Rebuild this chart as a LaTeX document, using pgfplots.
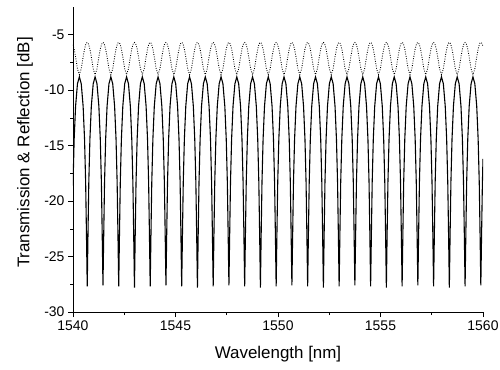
\documentclass[border=0pt]{standalone}
\usepackage{fontspec}
\setmainfont{Liberation Sans}
\usepackage{pgfplots}
\usepackage{pgfplotstable}
\pgfplotsset{compat=1.18}
\pgfplotstableread{
x T R
1540.000 -18.60 -5.90
1540.057 -14.40 -6.29
1540.126 -11.45 -7.00
1540.218 -9.42 -8.07
1540.310 -8.80 -8.60
1540.402 -9.42 -8.07
1540.494 -11.45 -7.00
1540.563 -14.40 -6.29
1540.617 -18.30 -5.91
1540.656 -22.90 -5.75
1540.694 -27.70 -5.70
1540.732 -22.90 -5.75
1540.771 -18.30 -5.91
1540.825 -14.40 -6.29
1540.894 -11.45 -7.00
1540.986 -9.42 -8.07
1541.078 -8.80 -8.60
1541.170 -9.42 -8.07
1541.262 -11.45 -7.00
1541.331 -14.40 -6.29
1541.385 -18.30 -5.91
1541.424 -22.90 -5.75
1541.462 -27.60 -5.70
1541.500 -22.90 -5.75
1541.539 -18.30 -5.91
1541.593 -14.40 -6.29
1541.662 -11.45 -7.00
1541.754 -9.42 -8.07
1541.846 -8.80 -8.60
1541.938 -9.42 -8.07
1542.030 -11.45 -7.00
1542.099 -14.40 -6.29
1542.153 -18.30 -5.91
1542.192 -22.90 -5.75
1542.230 -27.70 -5.70
1542.268 -22.90 -5.75
1542.307 -18.30 -5.91
1542.361 -14.40 -6.29
1542.430 -11.45 -7.00
1542.522 -9.42 -8.07
1542.614 -8.80 -8.60
1542.706 -9.42 -8.07
1542.798 -11.45 -7.00
1542.867 -14.40 -6.29
1542.921 -18.30 -5.91
1542.960 -22.90 -5.75
1542.998 -27.80 -5.70
1543.036 -22.90 -5.75
1543.075 -18.30 -5.91
1543.129 -14.40 -6.29
1543.198 -11.45 -7.00
1543.290 -9.42 -8.07
1543.382 -8.80 -8.60
1543.474 -9.42 -8.07
1543.566 -11.45 -7.00
1543.635 -14.40 -6.29
1543.689 -18.30 -5.91
1543.728 -22.90 -5.75
1543.766 -27.70 -5.70
1543.804 -22.90 -5.75
1543.843 -18.30 -5.91
1543.897 -14.40 -6.29
1543.966 -11.45 -7.00
1544.058 -9.42 -8.07
1544.150 -8.80 -8.60
1544.242 -9.42 -8.07
1544.334 -11.45 -7.00
1544.403 -14.40 -6.29
1544.457 -18.30 -5.91
1544.496 -22.90 -5.75
1544.534 -27.60 -5.70
1544.572 -22.90 -5.75
1544.611 -18.30 -5.91
1544.665 -14.40 -6.29
1544.734 -11.45 -7.00
1544.826 -9.42 -8.07
1544.918 -8.80 -8.60
1545.010 -9.42 -8.07
1545.102 -11.45 -7.00
1545.171 -14.40 -6.29
1545.225 -18.30 -5.91
1545.264 -22.90 -5.75
1545.302 -27.70 -5.70
1545.340 -22.90 -5.75
1545.379 -18.30 -5.91
1545.433 -14.40 -6.29
1545.502 -11.45 -7.00
1545.594 -9.42 -8.07
1545.686 -8.80 -8.60
1545.778 -9.42 -8.07
1545.870 -11.45 -7.00
1545.939 -14.40 -6.29
1545.993 -18.30 -5.91
1546.032 -22.90 -5.75
1546.070 -27.80 -5.70
1546.108 -22.90 -5.75
1546.147 -18.30 -5.91
1546.201 -14.40 -6.29
1546.270 -11.45 -7.00
1546.362 -9.42 -8.07
1546.454 -8.80 -8.60
1546.546 -9.42 -8.07
1546.638 -11.45 -7.00
1546.707 -14.40 -6.29
1546.761 -18.30 -5.91
1546.800 -22.90 -5.75
1546.838 -27.70 -5.70
1546.876 -22.90 -5.75
1546.915 -18.30 -5.91
1546.969 -14.40 -6.29
1547.038 -11.45 -7.00
1547.130 -9.42 -8.07
1547.222 -8.80 -8.60
1547.314 -9.42 -8.07
1547.406 -11.45 -7.00
1547.475 -14.40 -6.29
1547.529 -18.30 -5.91
1547.568 -22.90 -5.75
1547.606 -27.60 -5.70
1547.644 -22.90 -5.75
1547.683 -18.30 -5.91
1547.737 -14.40 -6.29
1547.806 -11.45 -7.00
1547.898 -9.42 -8.07
1547.990 -8.80 -8.60
1548.082 -9.42 -8.07
1548.174 -11.45 -7.00
1548.243 -14.40 -6.29
1548.297 -18.30 -5.91
1548.336 -22.90 -5.75
1548.374 -27.70 -5.70
1548.412 -22.90 -5.75
1548.451 -18.30 -5.91
1548.505 -14.40 -6.29
1548.574 -11.45 -7.00
1548.666 -9.42 -8.07
1548.758 -8.80 -8.60
1548.850 -9.42 -8.07
1548.942 -11.45 -7.00
1549.011 -14.40 -6.29
1549.065 -18.30 -5.91
1549.104 -22.90 -5.75
1549.142 -27.80 -5.70
1549.180 -22.90 -5.75
1549.219 -18.30 -5.91
1549.273 -14.40 -6.29
1549.342 -11.45 -7.00
1549.434 -9.42 -8.07
1549.526 -8.80 -8.60
1549.618 -9.42 -8.07
1549.710 -11.45 -7.00
1549.779 -14.40 -6.29
1549.833 -18.30 -5.91
1549.872 -22.90 -5.75
1549.910 -27.70 -5.70
1549.948 -22.90 -5.75
1549.987 -18.30 -5.91
1550.041 -14.40 -6.29
1550.110 -11.45 -7.00
1550.202 -9.42 -8.07
1550.294 -8.80 -8.60
1550.386 -9.42 -8.07
1550.478 -11.45 -7.00
1550.547 -14.40 -6.29
1550.601 -18.30 -5.91
1550.640 -22.90 -5.75
1550.678 -27.60 -5.70
1550.716 -22.90 -5.75
1550.755 -18.30 -5.91
1550.809 -14.40 -6.29
1550.878 -11.45 -7.00
1550.970 -9.42 -8.07
1551.062 -8.80 -8.60
1551.154 -9.42 -8.07
1551.246 -11.45 -7.00
1551.315 -14.40 -6.29
1551.369 -18.30 -5.91
1551.408 -22.90 -5.75
1551.446 -27.70 -5.70
1551.484 -22.90 -5.75
1551.523 -18.30 -5.91
1551.577 -14.40 -6.29
1551.646 -11.45 -7.00
1551.738 -9.42 -8.07
1551.830 -8.80 -8.60
1551.922 -9.42 -8.07
1552.014 -11.45 -7.00
1552.083 -14.40 -6.29
1552.137 -18.30 -5.91
1552.176 -22.90 -5.75
1552.214 -27.80 -5.70
1552.252 -22.90 -5.75
1552.291 -18.30 -5.91
1552.345 -14.40 -6.29
1552.414 -11.45 -7.00
1552.506 -9.42 -8.07
1552.598 -8.80 -8.60
1552.690 -9.42 -8.07
1552.782 -11.45 -7.00
1552.851 -14.40 -6.29
1552.905 -18.30 -5.91
1552.944 -22.90 -5.75
1552.982 -27.70 -5.70
1553.020 -22.90 -5.75
1553.059 -18.30 -5.91
1553.113 -14.40 -6.29
1553.182 -11.45 -7.00
1553.274 -9.42 -8.07
1553.366 -8.80 -8.60
1553.458 -9.42 -8.07
1553.550 -11.45 -7.00
1553.619 -14.40 -6.29
1553.673 -18.30 -5.91
1553.712 -22.90 -5.75
1553.750 -27.60 -5.70
1553.788 -22.90 -5.75
1553.827 -18.30 -5.91
1553.881 -14.40 -6.29
1553.950 -11.45 -7.00
1554.042 -9.42 -8.07
1554.134 -8.80 -8.60
1554.226 -9.42 -8.07
1554.318 -11.45 -7.00
1554.387 -14.40 -6.29
1554.441 -18.30 -5.91
1554.480 -22.90 -5.75
1554.518 -27.70 -5.70
1554.556 -22.90 -5.75
1554.595 -18.30 -5.91
1554.649 -14.40 -6.29
1554.718 -11.45 -7.00
1554.810 -9.42 -8.07
1554.902 -8.80 -8.60
1554.994 -9.42 -8.07
1555.086 -11.45 -7.00
1555.155 -14.40 -6.29
1555.209 -18.30 -5.91
1555.248 -22.90 -5.75
1555.286 -27.80 -5.70
1555.324 -22.90 -5.75
1555.363 -18.30 -5.91
1555.417 -14.40 -6.29
1555.486 -11.45 -7.00
1555.578 -9.42 -8.07
1555.670 -8.80 -8.60
1555.762 -9.42 -8.07
1555.854 -11.45 -7.00
1555.923 -14.40 -6.29
1555.977 -18.30 -5.91
1556.016 -22.90 -5.75
1556.054 -27.70 -5.70
1556.092 -22.90 -5.75
1556.131 -18.30 -5.91
1556.185 -14.40 -6.29
1556.254 -11.45 -7.00
1556.346 -9.42 -8.07
1556.438 -8.80 -8.60
1556.530 -9.42 -8.07
1556.622 -11.45 -7.00
1556.691 -14.40 -6.29
1556.745 -18.30 -5.91
1556.784 -22.90 -5.75
1556.822 -27.60 -5.70
1556.860 -22.90 -5.75
1556.899 -18.30 -5.91
1556.953 -14.40 -6.29
1557.022 -11.45 -7.00
1557.114 -9.42 -8.07
1557.206 -8.80 -8.60
1557.298 -9.42 -8.07
1557.390 -11.45 -7.00
1557.459 -14.40 -6.29
1557.513 -18.30 -5.91
1557.552 -22.90 -5.75
1557.590 -27.70 -5.70
1557.628 -22.90 -5.75
1557.667 -18.30 -5.91
1557.721 -14.40 -6.29
1557.790 -11.45 -7.00
1557.882 -9.42 -8.07
1557.974 -8.80 -8.60
1558.066 -9.42 -8.07
1558.158 -11.45 -7.00
1558.227 -14.40 -6.29
1558.281 -18.30 -5.91
1558.320 -22.90 -5.75
1558.358 -27.80 -5.70
1558.396 -22.90 -5.75
1558.435 -18.30 -5.91
1558.489 -14.40 -6.29
1558.558 -11.45 -7.00
1558.650 -9.42 -8.07
1558.742 -8.80 -8.60
1558.834 -9.42 -8.07
1558.926 -11.45 -7.00
1558.995 -14.40 -6.29
1559.049 -18.30 -5.91
1559.088 -22.90 -5.75
1559.126 -27.70 -5.70
1559.164 -22.90 -5.75
1559.203 -18.30 -5.91
1559.257 -14.40 -6.29
1559.326 -11.45 -7.00
1559.418 -9.42 -8.07
1559.510 -8.80 -8.60
1559.602 -9.42 -8.07
1559.694 -11.45 -7.00
1559.763 -14.40 -6.29
1559.817 -18.30 -5.91
1559.856 -22.90 -5.75
1559.894 -27.60 -5.70
1559.932 -22.90 -5.75
1559.971 -18.30 -5.91
1560.000 -16.20 -6.10
}\spectrum
\begin{document}
\begin{tikzpicture}
\begin{axis}[
  name=ax,
  scale only axis,
  width=410bp, height=305bp,
  xmin=1540, xmax=1560,
  ymin=-30, ymax=-2.5,
  xtick={1540,1545,...,1560},
  ytick={-30,-25,...,-5},
  minor x tick num=1,
  minor y tick num=1,
  axis x line*=bottom,
  axis y line*=left,
  tick align=outside,
  major tick length=5bp,
  minor tick length=3bp,
  tick style={black, line width=0.6pt},
  axis line style={black, line width=0.8pt},
  /pgf/number format/assume math mode=true,
  /pgf/number format/1000 sep={},
  ticklabel style={font=\fontsize{14}{16}\selectfont},
  xlabel={Wavelength [nm]},
  ylabel={Transmission \& Reflection [dB]},
  label style={font=\fontsize{17}{20}\selectfont},
  xlabel style={at={(axis description cs:0.5,0)}, anchor=north, yshift=-34bp, inner sep=0pt},
  ylabel style={at={(axis description cs:0,0.523)}, anchor=south, rotate=0, yshift=40bp, inner sep=0pt},
  clip=true,
]
\addplot[black, line width=0.85pt, dash pattern=on 0.85pt off 1.5pt] table[x=x, y=R] {\spectrum};
\addplot[black, line width=1.1pt] table[x=x, y=T] {\spectrum};
\end{axis}
\pgfresetboundingbox
\path ([xshift=-73bp,yshift=-58bp]ax.south west) rectangle ([xshift=17bp,yshift=7bp]ax.north east);
\end{tikzpicture}
\end{document}
